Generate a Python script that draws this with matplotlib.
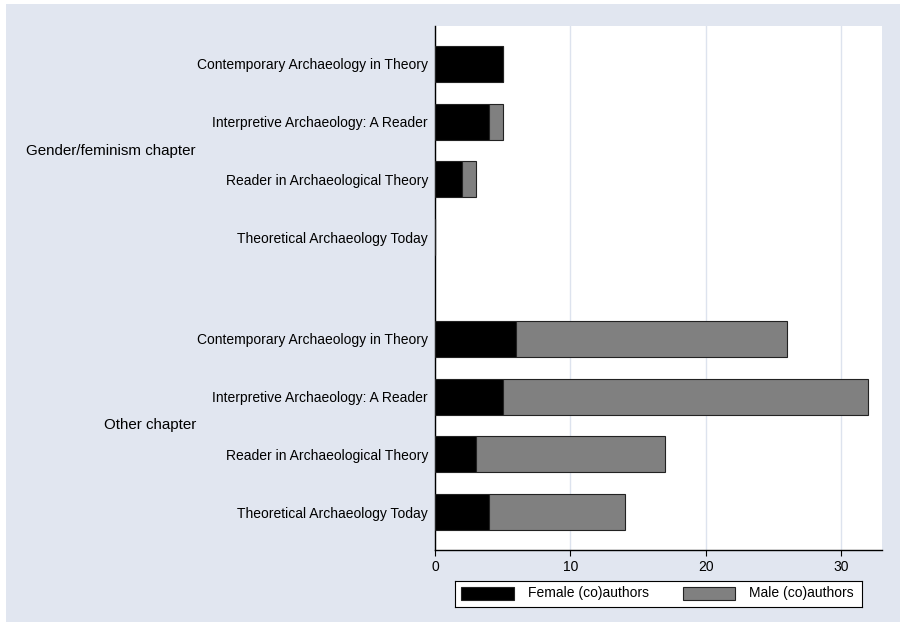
import matplotlib.pyplot as plt
from matplotlib.patches import Rectangle
from matplotlib.transforms import blended_transform_factory
import matplotlib

matplotlib.rc('font', family='Liberation Sans')

# data
groups = ['Gender/feminism chapter', 'Other chapter']
books = ['Contemporary Archaeology in Theory',
         'Interpretive Archaeology: A Reader',
         'Reader in Archaeological Theory',
         'Theoretical Archaeology Today']
female_gender = [5, 4, 2, 0]
male_gender = [0, 1, 1, 0]
female_other = [6, 5, 3, 4]
male_other = [20, 27, 14, 10]
xticks = [0, 10, 20, 30]

bg = '#e1e6f0'
grey = '#808080'

fig = plt.figure(figsize=(9, 6.22), dpi=100)
fig.patch.set_facecolor('white')
fig.patches.append(Rectangle((6/900, 0), 1, 1 - 4/622, transform=fig.transFigure,
                             facecolor=bg, edgecolor='none', zorder=-10))
ax = fig.add_axes([435/900, 1 - 550/622, 447/900, 524/622])
ax.set_facecolor('white')

# positions: 4 bars per group, extra gap between groups
gap = 102 / 58
pos1 = [i for i in range(len(books))]
pos2 = [len(books) - 1 + gap + i for i in range(len(books))]
h = 0.62

for pos, fem, mal in [(pos1, female_gender, male_gender), (pos2, female_other, male_other)]:
    ax.barh(pos, fem, height=h, color='black', edgecolor='#222222', lw=0.8, zorder=3)
    ax.barh(pos, mal, left=fem, height=h, color=grey, edgecolor='#222222', lw=0.8, zorder=3)

ax.set_ylim(pos2[-1] + 0.655, -0.655)
ax.set_xlim(0, 33)
ax.set_xticks(xticks)
ax.tick_params(axis='x', labelsize=10, length=4, width=0.8, pad=3)
ax.set_yticks(pos1 + pos2)
ax.set_yticklabels(books + books, fontsize=10)
ax.tick_params(axis='y', length=0, pad=5)
ax.grid(axis='x', color='#dde3ee', lw=1, zorder=0)
ax.set_axisbelow(True)
for s in ['top', 'right']:
    ax.spines[s].set_visible(False)
ax.spines['left'].set_linewidth(1)
ax.spines['bottom'].set_linewidth(1)

# group labels
tr = blended_transform_factory(fig.transFigure, ax.transData)
gy1 = (pos1[0] + pos1[-1]) / 2
gy2 = (pos2[0] + pos2[-1]) / 2
ax.text(196/900, gy1, groups[0], transform=tr, ha='right', va='center', fontsize=10.9)
ax.text(196/900, gy2, groups[1], transform=tr, ha='right', va='center', fontsize=10.9)

# legend
lax = fig.add_axes([455/900, 1 - 607/622, 407/900, 26/622])
lax.set_xlim(0, 407)
lax.set_ylim(0, 26)
lax.set_xticks([])
lax.set_yticks([])
lax.set_facecolor('white')
for s in lax.spines.values():
    s.set_linewidth(0.8)
lax.add_patch(Rectangle((6, 7), 53, 13, facecolor='black', edgecolor='#222222', lw=0.8))
lax.text(73, 13.5, 'Female (co)authors', ha='left', va='center', fontsize=10)
lax.add_patch(Rectangle((228, 7), 52, 13, facecolor=grey, edgecolor='#222222', lw=0.8))
lax.text(294, 13.5, 'Male (co)authors', ha='left', va='center', fontsize=10)

fig.savefig('out.png', dpi=100)
